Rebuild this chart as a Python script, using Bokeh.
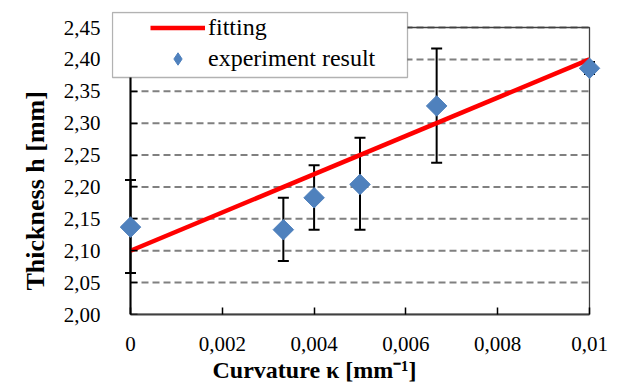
from bokeh.plotting import figure
from bokeh.models import (FixedTicker, CustomJSTickFormatter, Legend, LegendItem,
                          Range1d, Title, BoxAnnotation, LinearAxis)
from bokeh.embed import file_html
from bokeh.resources import INLINE
import math

# ---- data ----
curvature = [0.0, 0.00333, 0.004, 0.005, 0.00667, 0.01]
thickness = [2.137, 2.133, 2.183, 2.204, 2.327, 2.386]
err_upper = [2.211, 2.183, 2.234, 2.277, 2.417, 2.396]
err_lower = [2.065, 2.084, 2.133, 2.133, 2.238, 2.377]

fit_x = [0.0, 0.01]
fit_y = [2.10, 2.40]

x_ticks = [0.0, 0.002, 0.004, 0.006, 0.008, 0.01]
x_tick_labels = ["0", "0,002", "0,004", "0,006", "0,008", "0,01"]
y_ticks = [2.00, 2.05, 2.10, 2.15, 2.20, 2.25, 2.30, 2.35, 2.40, 2.45]
y_tick_labels = ["2,00", "2,05", "2,10", "2,15", "2,20", "2,25", "2,30", "2,35", "2,40", "2,45"]

FONT = "Liberation Serif"

# ---- layout (pixels) ----
X0_PX, X1_PX = 130, 589      # where x = 0 and x = 0.01 sit
Y0_PX, Y1_PX = 314, 27       # where y = 2.00 and y = 2.45 sit
FRAME_L, FRAME_R, FRAME_T = 111, 601, 11
W, H = 621, 389


def px_x(px):
    return x_ticks[0] + (px - X0_PX) * (x_ticks[-1] - x_ticks[0]) / (X1_PX - X0_PX)


def px_y(py):
    return y_ticks[0] + (Y0_PX - py) * (y_ticks[-1] - y_ticks[0]) / (Y0_PX - Y1_PX)


p = figure(width=W, height=H, output_backend="svg", toolbar_location=None,
           x_range=Range1d(px_x(FRAME_L), px_x(FRAME_R)),
           y_range=Range1d(y_ticks[0], px_y(FRAME_T)),
           min_border_left=FRAME_L, min_border_right=W - FRAME_R,
           min_border_top=FRAME_T, min_border_bottom=H - Y0_PX)
p.background_fill_color = "white"
p.border_fill_color = "white"
p.outline_line_color = None
p.xgrid.visible = False
p.ygrid.visible = False

fmt_code = """
for (let i = 0; i < tv.length; i++) {
  if (Math.abs(tv[i] - tick) < 1e-9) { return tl[i]; }
}
return '';
"""

# x axis
xa = p.xaxis[0]
xa.ticker = FixedTicker(ticks=x_ticks)
xa.formatter = CustomJSTickFormatter(args=dict(tv=x_ticks, tl=x_tick_labels), code=fmt_code)
xa.bounds = (x_ticks[0], x_ticks[-1])
xa.axis_line_color = "#404040"
xa.axis_line_width = 2
xa.major_tick_line_color = "black"
xa.major_tick_line_width = 1.5
xa.major_tick_in = 7
xa.major_tick_out = 0
xa.minor_tick_line_color = None
xa.major_label_text_font = FONT
xa.major_label_text_font_size = "21px"
xa.major_label_text_color = "black"
xa.major_label_standoff = 22

# y axis: tick labels only (at the frame edge, no line)
ya = p.yaxis[0]
ya.ticker = FixedTicker(ticks=y_ticks)
ya.formatter = CustomJSTickFormatter(args=dict(tv=y_ticks, tl=y_tick_labels), code=fmt_code)
ya.axis_line_color = None
ya.major_tick_line_color = None
ya.major_tick_in = 0
ya.major_tick_out = 0
ya.minor_tick_line_color = None
ya.major_label_text_font = FONT
ya.major_label_text_font_size = "21px"
ya.major_label_text_color = "black"
ya.major_label_standoff = 30 - (X0_PX - FRAME_L)

# y axis line with inward ticks, fixed at x = 0
ya_line = LinearAxis(fixed_location=x_ticks[0], ticker=FixedTicker(ticks=y_ticks),
                     formatter=CustomJSTickFormatter(code="return '';"),
                     bounds=(y_ticks[0], y_ticks[-1]),
                     axis_line_color="black", axis_line_width=2,
                     major_tick_line_color="black", major_tick_line_width=1.5,
                     major_tick_in=7, major_tick_out=0, minor_tick_line_color=None,
                     major_label_standoff=0, major_label_text_font_size="1px")
p.add_layout(ya_line, "left")

# axis titles (placed as in the reference, off the frame centre)
ytitle = Title(text="Thickness h [mm]", align="left", offset=Y0_PX - 290,
               text_font=FONT, text_font_size="26px", text_font_style="bold",
               text_color="black", standoff=22)
p.add_layout(ytitle, "left")

xtitle = Title(text="Curvature \u03ba [mm\u207b\u00b9]", align="left", offset=212 - FRAME_L,
               text_font=FONT, text_font_size="24px", text_font_style="bold",
               text_color="black", standoff=3)
p.add_layout(xtitle, "below")

# dashed horizontal gridlines, limited to the plot area
n = len(y_ticks) - 1
p.segment(x0=[x_ticks[0]] * n, x1=[x_ticks[-1]] * n, y0=y_ticks[1:], y1=y_ticks[1:],
          line_color="#808080", line_width=2, line_dash="7 4")

# plot-area border (top & right)
p.quad(left=[x_ticks[0]], right=[x_ticks[-1]], bottom=[y_ticks[0]], top=[y_ticks[-1]],
       fill_alpha=0, line_color="#404040", line_width=1.3)

# error bars
p.segment(x0=curvature, x1=curvature, y0=err_lower, y1=err_upper,
          line_color="black", line_width=2)
p.scatter(x=curvature + curvature, y=err_lower + err_upper, marker="dash", size=11,
          line_color="black", line_width=2)

# fitting line
line_r = p.line(fit_x, fit_y, line_color="#FF0000", line_width=4.5)

# legend swatch for the points (diamond shape), hidden under the first real point
pts_key = p.scatter(x=curvature[:1], y=thickness[:1], marker="diamond", size=18,
                    fill_color="#4F81BD", line_color="#4F81BD")

# experiment points (drawn over the axes, like the reference)
pts = p.scatter(curvature, thickness, marker="square", size=14.5, angle=math.pi / 4,
                fill_color="#4F81BD", line_color="#4F81BD", level="overlay")

# legend box + legend
box = BoxAnnotation(left=px_x(112), right=px_x(407), top=px_y(12), bottom=px_y(77),
                    fill_color="white", fill_alpha=1.0, line_color="black", line_width=1.3)
p.add_layout(box)

legend = Legend(items=[LegendItem(label="fitting", renderers=[line_r]),
                       LegendItem(label="experiment result", renderers=[pts_key])],
                location=(146 - FRAME_L, Y0_PX - 78), orientation="vertical",
                glyph_width=55, glyph_height=31, label_standoff=3,
                label_height=31, padding=4, spacing=0, margin=0,
                label_text_font=FONT, label_text_font_size="24px", label_text_color="black",
                border_line_alpha=0, background_fill_alpha=0)
p.add_layout(legend)

open("out.html", "w").write(file_html(p, INLINE))
